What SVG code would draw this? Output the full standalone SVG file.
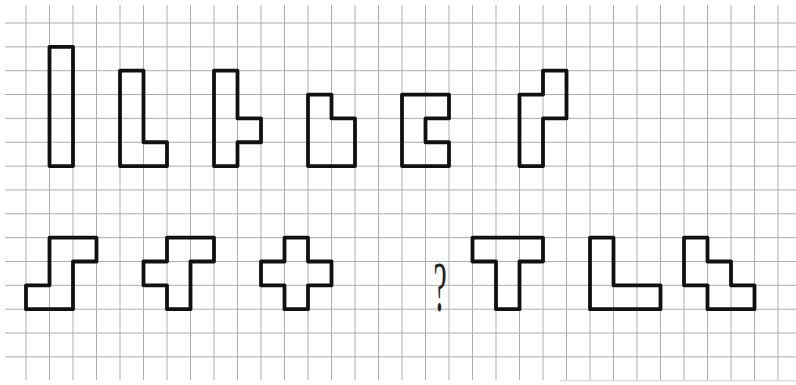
<svg xmlns="http://www.w3.org/2000/svg" width="796" height="385" viewBox="0 0 796 385">
<style>
.grid{stroke:#adadad;stroke-width:1;fill:none}
.shape{fill:none;stroke:#111;stroke-width:3.8;stroke-linejoin:round;vector-effect:non-scaling-stroke}
.q{font-family:"Liberation Serif",serif;fill:#222}
</style>
<rect width="796" height="385" fill="#fff"/>
<g id="grid" class="grid">
<path d="M26 5V380M49.5 5V380M73 5V380M96.5 5V380M120 5V380M143.5 5V380M167 5V380M190.5 5V380M214 5V380M237.5 5V380M261 5V380M284.5 5V380M308 5V380M331.5 5V380M355 5V380M378.5 5V380M402 5V380M425.5 5V380M449 5V380M472.5 5V380M496 5V380M519.5 5V380M543 5V380M566.5 5V380M590 5V380M613.5 5V380M637 5V380M660.5 5V380M684 5V380M707.5 5V380M731 5V380M754.5 5V380M778 5V380"/>
<path d="M5 23H796M5 46.85H796M5 70.7H796M5 94.55H796M5 118.4H796M5 142.25H796M5 166.1H796M5 189.95H796M5 213.8H796M5 237.65H796M5 261.5H796M5 285.35H796M5 309.2H796M5 333.05H796M5 356.9H796"/>
<path d="M560 380.75H796" stroke-opacity="0.6"/>
</g>
<g transform="translate(26 23) scale(23.5 23.85)">
<g id="shape-I"><polygon class="shape" points="1,1 2,1 2,6 1,6"/></g>
<g id="shape-L"><polygon class="shape" points="4,2 5,2 5,5 6,5 6,6 4,6"/></g>
<g id="shape-Y"><polygon class="shape" points="8,2 9,2 9,4 10,4 10,5 9,5 9,6 8,6"/></g>
<g id="shape-P"><polygon class="shape" points="12,3 13,3 13,4 14,4 14,6 12,6"/></g>
<g id="shape-U"><polygon class="shape" points="16,3 18,3 18,4 17,4 17,5 18,5 18,6 16,6"/></g>
<g id="shape-N"><polygon class="shape" points="21,3 22,3 22,2 23,2 23,4 22,4 22,6 21,6"/></g>
<g id="shape-S"><polygon class="shape" points="1,9 3,9 3,10 2,10 2,12 0,12 0,11 1,11"/></g>
<g id="shape-F"><polygon class="shape" points="6,9 8,9 8,10 7,10 7,12 6,12 6,11 5,11 5,10 6,10"/></g>
<g id="shape-X"><polygon class="shape" points="11,9 12,9 12,10 13,10 13,11 12,11 12,12 11,12 11,11 10,11 10,10 11,10"/></g>
<g id="shape-T"><polygon class="shape" points="19,9 22,9 22,10 21,10 21,12 20,12 20,10 19,10"/></g>
<g id="shape-V"><polygon class="shape" points="24,9 25,9 25,11 27,11 27,12 24,12"/></g>
<g id="shape-W"><polygon class="shape" points="28,9 29,9 29,10 30,10 30,11 31,11 31,12 29,12 29,11 28,11"/></g>
</g>
<g id="question"><text class="q" transform="translate(440 311) scale(0.45 1.1)" font-size="66" text-anchor="middle">?</text></g>
</svg>
